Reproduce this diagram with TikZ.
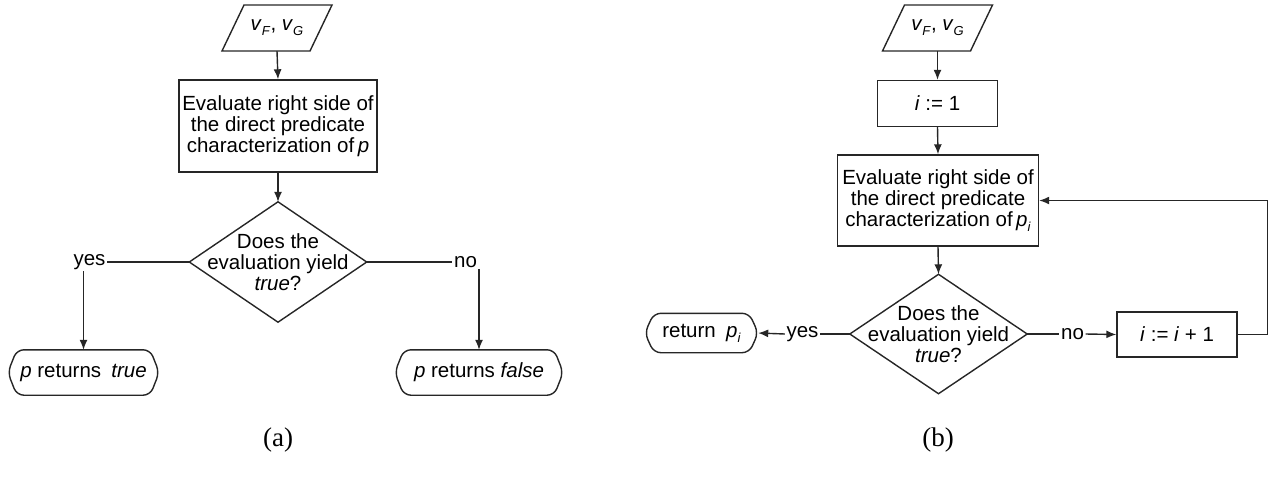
\documentclass[tikz,border=0pt]{standalone}
\usepackage{fontspec}
\setmainfont{Liberation Sans}
\newfontfamily\capfont{Liberation Serif}
\usetikzlibrary{arrows.meta,calc}
\newcommand\subsc[1]{\raisebox{-0.45ex}{\fontsize{13}{13}\selectfont\textit{#1}}}
\newcommand\termpath[1]{\draw[lw,rounded corners=7pt] ([xshift=9pt]#1.north west) -- ([xshift=-9pt]#1.north east) -- (#1.east) -- ([xshift=-9pt]#1.south east) -- ([xshift=9pt]#1.south west) -- (#1.west) -- cycle;}
\newcommand\diampath[1]{\draw[lw] (#1.north) -- (#1.east) -- (#1.south) -- (#1.west) -- cycle;}
\newcommand\parapath[1]{\draw[lw] ([shift={(-33,-23)}]#1.center) -- ([shift={(55,-23)}]#1.center) -- ([shift={(33,23)}]#1.center) -- ([shift={(-55,23)}]#1.center) -- cycle;}
\begin{document}
\begin{tikzpicture}[x=1pt,y=-1pt,
  every node/.style={font=\fontsize{20.5}{21}\selectfont, text=black},
  lw/.style={line width=1.4pt, draw=black!85},
  arr/.style={lw,-{Latex[length=10pt,width=8pt]}},
  procbox/.style={draw,lw,align=center,inner sep=0pt},
  ghost/.style={inner sep=0pt,align=center},
  lbl/.style={inner sep=1.5pt}]
\useasboundingbox (0,0) rectangle (1273,480);
% ---------- (a)
\node[ghost,minimum height=46pt] (inA) at (277,28) {\textit{v}\subsc{F}, \textit{v}\subsc{G}};
\parapath{inA}
\node[procbox,minimum width=198pt,minimum height=92pt] (bA) at (278,126) {Evaluate right side of\\the direct predicate\\characterization of\,\textit{p}};
\node[ghost,minimum width=177pt,minimum height=120pt] (dA) at (278,262) {Does the\\evaluation yield\\\textit{true}?};
\diampath{dA}
\node[lbl] (yA) at (89.5,262) {yes};
\node[lbl] (nA) at (465.5,262) {no};
\node[ghost,minimum width=151pt,minimum height=45pt] (tA) at (83.5,372.5) {\textit{p} returns\hspace{0.5em}\textit{true}};
\termpath{tA}
\node[ghost,minimum width=168pt,minimum height=45pt] (tB) at (479,372.5) {\textit{p} returns \textit{false}};
\termpath{tB}
\draw[arr] (inA.south) -- (bA.north);
\draw[arr] (bA.south) -- (dA.north);
\draw[lw] (dA.west) -- (yA.east);
\draw[lw] (dA.east) -- (nA.west);
\draw[arr] (yA.south -| tA.north) -- (tA.north);
\draw[arr] (nA.south -| tB.north) -- (tB.north);
\node[font=\capfont\fontsize{27}{27}\selectfont] (capA) at (278,440) {(a)};
% ---------- (b)
\node[ghost,minimum height=46pt] (inB) at (937.5,28) {\textit{v}\subsc{F}, \textit{v}\subsc{G}};
\parapath{inB}
\node[procbox,minimum width=120pt,minimum height=46pt] (i1) at (937.5,103.5) {\textit{i} := 1};
\node[procbox,minimum width=201pt,minimum height=91pt] (bB) at (938,200.5) {Evaluate right side of\\the direct predicate\\characterization of\,\textit{p}\subsc{i}};
\node[ghost,minimum width=177pt,minimum height=119pt] (dB) at (938.5,334) {Does the\\evaluation yield\\\textit{true}?};
\diampath{dB}
\node[lbl] (yB) at (802.5,334) {yes};
\node[lbl] (nB) at (1072.5,334) {no};
\node[ghost,minimum width=113pt,minimum height=39pt] (tC) at (701.5,333) {return\hspace{0.5em}\textit{p}\subsc{i}};
\termpath{tC}
\node[procbox,minimum width=120pt,minimum height=45pt] (i2) at (1177,334.5) {\textit{i} := \textit{i} + 1};
\draw[arr] (inB.south) -- (i1.north);
\draw[arr] (i1.south) -- (bB.north);
\draw[arr] (bB.south) -- (dB.north);
\draw[lw] (dB.west) -- (yB.east);
\draw[arr] (yB.west) -- (tC.east);
\draw[lw] (dB.east) -- (nB.west);
\draw[arr] (nB.east) -- (i2.west);
\draw[arr] (i2.east) -- ++(30,0) |- (bB.east);
\node[font=\capfont\fontsize{27}{27}\selectfont] (capB) at (938,440) {(b)};
\end{tikzpicture}
\end{document}
